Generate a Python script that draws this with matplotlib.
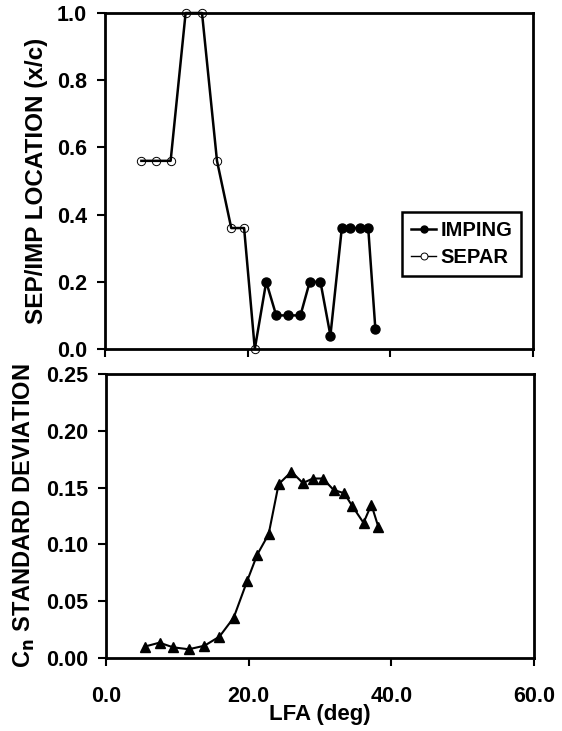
import numpy as np
import matplotlib
matplotlib.use("Agg")
import matplotlib.pyplot as plt
from matplotlib.ticker import FormatStrFormatter

plt.rcParams['font.family'] = ['Liberation Sans', 'DejaVu Sans']
plt.rcParams['font.weight'] = 'bold'

# Górny wykres: położenie oderwania / uderzenia
separ_lfa = [5.1, 7.2, 9.2, 11.3, 13.6, 15.7, 17.7, 19.5, 21.0]
separ_loc = [0.56, 0.56, 0.56, 1.0, 1.0, 0.56, 0.36, 0.36, 0.0]
imping_lfa = [22.6, 24.0, 25.6, 27.4, 28.7, 30.2, 31.6, 33.2, 34.4, 35.8, 36.9, 37.9]
imping_loc = [0.20, 0.10, 0.10, 0.10, 0.20, 0.20, 0.04, 0.36, 0.36, 0.36, 0.36, 0.06]

# Dolny wykres: odchylenie standardowe Cn
cn_lfa = [5.4, 7.5, 9.4, 11.6, 13.8, 15.9, 17.9, 19.8, 21.2, 22.8, 24.2, 26.0,
          27.6, 29.0, 30.4, 31.9, 33.4, 34.5, 36.1, 37.2, 38.2]
cn_std = [0.010, 0.0135, 0.0094, 0.0077, 0.0108, 0.0188, 0.0355, 0.068, 0.091,
          0.109, 0.153, 0.164, 0.154, 0.158, 0.158, 0.148, 0.145, 0.134, 0.119,
          0.135, 0.115]

fig = plt.figure(figsize=(5.62, 7.31), dpi=100)
ax1 = fig.add_axes([105/562, 1-349/731, 428/562, 336/731])
ax2 = fig.add_axes([106/562, 1-658/731, 428/562, 284/731])

# jedna linia przez wszystkie punkty
all_x = separ_lfa + imping_lfa
all_y = separ_loc + imping_loc
ax1.plot(all_x, all_y, color='black', lw=1.8, clip_on=False, zorder=2)
ax1.plot(imping_lfa, imping_loc, 'o', color='black', ms=6.5, clip_on=False, zorder=3)
ax1.plot(separ_lfa, separ_loc, 'o', mfc='none', mec='black', mew=0.7, ms=6,
         clip_on=False, zorder=3)

h1, = ax1.plot([], [], '-o', color='black', ms=5, lw=1.8, label='IMPING')
h2, = ax1.plot([], [], '-o', color='black', mfc='white', mew=0.7, ms=5, lw=1.0, label='SEPAR')
leg = ax1.legend(handles=[h1, h2], loc='upper left', bbox_to_anchor=(0.694, 0.408),
                 borderaxespad=0, fancybox=False, edgecolor='black', framealpha=1,
                 handlelength=1.25, handletextpad=0.2, borderpad=0.45, labelspacing=0.4,
                 prop={'size': 14.5, 'weight': 'bold'})
leg.get_frame().set_linewidth(1.8)

ax1.set_xlim(0, 60)
ax1.set_ylim(0, 1.0)
ax1.set_xticks([0, 20, 40, 60])
ax1.set_xticklabels([])
ax1.set_yticks(np.arange(0, 1.01, 0.2))
ax1.yaxis.set_major_formatter(FormatStrFormatter('%.1f'))
ax1.set_ylabel('SEP/IMP LOCATION (x/c)', fontsize=17.5, fontweight='bold', labelpad=6)

ax2.plot(cn_lfa, cn_std, '-^', color='black', ms=7, lw=1.5, clip_on=False)
ax2.set_xlim(0, 60)
ax2.set_ylim(0, 0.25)
ax2.set_xticks([0, 20, 40, 60])
ax2.xaxis.set_major_formatter(FormatStrFormatter('%.1f'))
ax2.set_yticks(np.arange(0, 0.251, 0.05))
ax2.yaxis.set_major_formatter(FormatStrFormatter('%.2f'))
ax2.set_ylabel('C$_\\mathbf{n}$ STANDARD DEVIATION', fontsize=17, fontweight='bold', labelpad=6)
ax2.set_xlabel('LFA (deg)', fontsize=16, fontweight='bold', labelpad=-2)

for ax in (ax1, ax2):
    for s in ax.spines.values():
        s.set_linewidth(2)
    ax.tick_params(direction='out', length=6, width=1.5, labelsize=15.5)
    ax.tick_params(axis='y', pad=7)
    ax.tick_params(axis='x', pad=14)
    for lab in ax.get_xticklabels() + ax.get_yticklabels():
        lab.set_fontweight('bold')

fig.savefig('out.png', dpi=100)
